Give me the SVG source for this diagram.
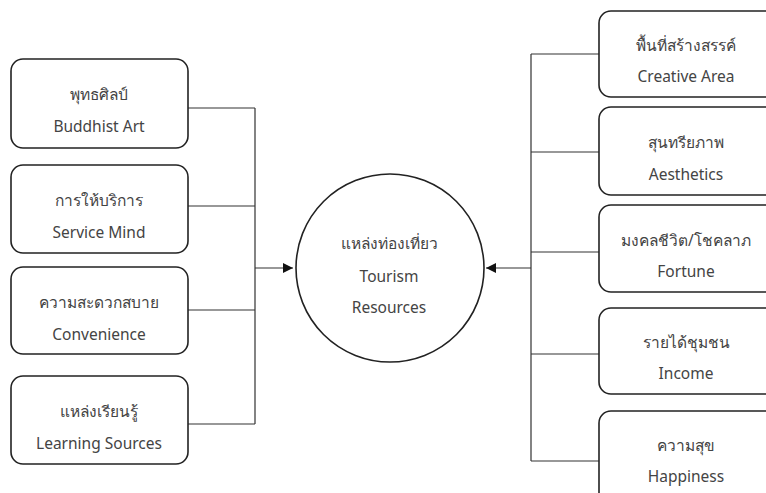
<svg xmlns="http://www.w3.org/2000/svg" width="766" height="493" viewBox="0 0 766 493">
<style>
.box{fill:#fff;stroke:#222;stroke-width:1.6}
.t{font-family:"Noto Sans","DejaVu Sans",sans-serif;font-size:15.5px;fill:#444;text-anchor:middle}
.c{fill:none;stroke:#333;stroke-width:1.2}
</style>
<defs>
<marker id="ah" viewBox="0 0 10 10" refX="10" refY="5" markerWidth="10" markerHeight="10" markerUnits="userSpaceOnUse" orient="auto">
<path d="M0,0 L10,5 L0,10 z" fill="#111"/>
</marker>
</defs>
<rect width="766" height="493" fill="#fff"/>
<g id="connectors">
<path class="c" d="M188,108 H255 M188,206 H255 M188,310 H255 M188,424 H255 M255,108 V424"/>
<path class="c" d="M255,268 H293" marker-end="url(#ah)"/>
<path class="c" d="M599,54 H531 M599,152 H531 M599,252 H531 M599,354 H531 M599,461 H531 M531,54 V461"/>
<path class="c" d="M531,268 H486" marker-end="url(#ah)"/>
</g>
<g id="center">
<circle cx="390" cy="268" r="94" fill="#fff" stroke="#222" stroke-width="1.6"/>
<text class="t" x="389" y="249">แหล่งท่องเที่ยว</text>
<text class="t" x="389" y="282">Tourism</text>
<text class="t" x="389" y="313">Resources</text>
</g>
<g id="buddhist-art">
<rect class="box" x="11" y="59" width="177" height="89" rx="12"/>
<text class="t" x="99" y="100">พุทธศิลป์</text>
<text class="t" x="99" y="132">Buddhist Art</text>
</g>
<g id="service-mind">
<rect class="box" x="11" y="165" width="177" height="88" rx="12"/>
<text class="t" x="99" y="206">การให้บริการ</text>
<text class="t" x="99" y="238">Service Mind</text>
</g>
<g id="convenience">
<rect class="box" x="11" y="267" width="177" height="87" rx="12"/>
<text class="t" x="99" y="308">ความสะดวกสบาย</text>
<text class="t" x="99" y="340">Convenience</text>
</g>
<g id="learning-sources">
<rect class="box" x="11" y="376" width="177" height="88" rx="12"/>
<text class="t" x="99" y="417">แหล่งเรียนรู้</text>
<text class="t" x="99" y="449">Learning Sources</text>
</g>
<g id="creative-area">
<rect class="box" x="599" y="11" width="200" height="86" rx="12"/>
<text class="t" x="686" y="51">พื้นที่สร้างสรรค์</text>
<text class="t" x="686" y="82">Creative Area</text>
</g>
<g id="aesthetics">
<rect class="box" x="599" y="107" width="200" height="88" rx="12"/>
<text class="t" x="686" y="148">สุนทรียภาพ</text>
<text class="t" x="686" y="180">Aesthetics</text>
</g>
<g id="fortune">
<rect class="box" x="599" y="205" width="200" height="87" rx="12"/>
<text class="t" x="686" y="246">มงคลชีวิต/โชคลาภ</text>
<text class="t" x="686" y="277">Fortune</text>
</g>
<g id="income">
<rect class="box" x="599" y="308" width="200" height="86" rx="12"/>
<text class="t" x="686" y="348">รายได้ชุมชน</text>
<text class="t" x="686" y="379">Income</text>
</g>
<g id="happiness">
<rect class="box" x="599" y="411" width="200" height="100" rx="12"/>
<text class="t" x="686" y="451">ความสุข</text>
<text class="t" x="686" y="482">Happiness</text>
</g>
</svg>
